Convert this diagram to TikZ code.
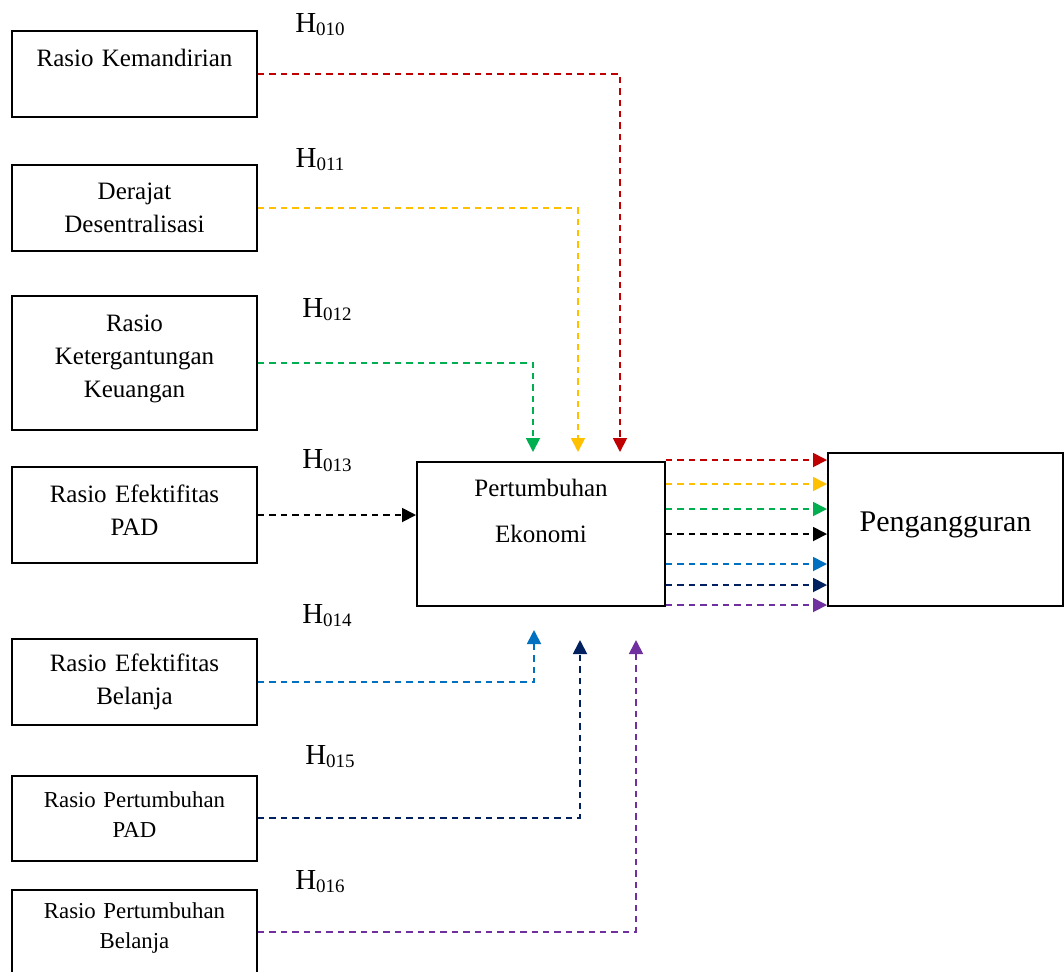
\documentclass[tikz,border=0pt]{standalone}
\usepackage{fontspec}
\setmainfont{Liberation Serif}
\usetikzlibrary{arrows.meta,calc}

\definecolor{hRed}{HTML}{C00000}
\definecolor{hYel}{HTML}{FFC000}
\definecolor{hGrn}{HTML}{00B050}
\definecolor{hBlu}{HTML}{0070C0}
\definecolor{hNav}{HTML}{002060}
\definecolor{hPur}{HTML}{7030A0}

\newcommand{\hyp}[1]{H\raisebox{-1.5pt}{\fontsize{9.5}{10}\selectfont #1}}

\begin{document}
\begin{tikzpicture}[x=0.5pt, y=-0.5pt, every node/.style={text centered},
	varbox/.style={rectangle, draw, line width=1pt, inner sep=0pt,
		minimum width=122.5pt, text width=118pt, minimum height=#1,
		font=\fontsize{12.5}{16.5}\selectfont},
	smallbox/.style={varbox=#1, font=\fontsize{11.4}{15}\selectfont},
	hlabel/.style={inner sep=0pt, font=\fontsize{14.5}{16}\selectfont},
	link/.style={dash pattern=on 3.2pt off 2.5pt, line width=0.9pt,
		-{Triangle[length=7pt, width=7pt]}}]
	\useasboundingbox (0,0) rectangle (1064,971);

	% variabel independen
	\node[varbox=43pt] (kem) at (134.5, 74) {Rasio Kemandirian\\ ~};
	\node[varbox=43pt] (der) at (134.5, 208) {Derajat\\Desentralisasi};
	\node[varbox=67pt] (ket) at (134.5, 363) {Rasio\\Ketergantungan\\Keuangan\\[-9.8pt] ~};
	\node[varbox=48pt] (efp) at (134.5, 515) {Rasio Efektifitas\\PAD\\[-11.5pt] ~};
	\node[varbox=43pt] (efb) at (134.5, 682) {Rasio Efektifitas\\Belanja};
	\node[smallbox=42.5pt] (ptp) at (134.5, 818) {Rasio Pertumbuhan\\PAD\\[-11.5pt] ~};
	\node[smallbox=42.5pt] (ptb) at (134.5, 932) {Rasio Pertumbuhan\\Belanja\\[-9pt] ~};

	% intervening dan dependen
	\node[rectangle, draw, line width=1pt, inner sep=0pt, minimum width=124pt,
		text width=120pt, minimum height=72pt, font=\fontsize{12.5}{23}\selectfont]
		(pe) at (541, 534) {Pertumbuhan\\Ekonomi\\ ~};
	\node[rectangle, draw, line width=1pt, inner sep=0pt, minimum width=117.5pt,
		minimum height=76.5pt, font=\fontsize{15}{18}\selectfont]
		(png) at (945.5, 529.5) {\raisebox{8pt}{Pengangguran}};

	% hipotesis
	\node[hlabel] (h10) at (320, 25) {\hyp{010}};
	\node[hlabel] (h11) at (320, 160) {\hyp{011}};
	\node[hlabel] (h12) at (327, 310) {\hyp{012}};
	\node[hlabel] (h13) at (327, 461) {\hyp{013}};
	\node[hlabel] (h14) at (327, 616) {\hyp{014}};
	\node[hlabel] (h15) at (330, 757) {\hyp{015}};
	\node[hlabel] (h16) at (320, 882) {\hyp{016}};

	% ujung panah
	\coordinate (tRed) at (620, 452);
	\coordinate (tYel) at (578, 452);
	\coordinate (tGrn) at (533, 452);
	\coordinate (tBlu) at (534, 630);
	\coordinate (tNav) at (580, 640);
	\coordinate (tPur) at (636, 640);

	\draw[link, hRed] (kem.east) -| (tRed);
	\draw[link, hYel] (der.east) -| (tYel);
	\draw[link, hGrn] (ket.east) -| (tGrn);
	\draw[link, black] (efp.east) -- (efp.east -| pe.west);
	\draw[link, hBlu] (efb.east) -| (tBlu);
	\draw[link, hNav] (ptp.east) -| (tNav);
	\draw[link, hPur] (ptb.east) -| (tPur);

	\foreach \dd/\cc in {-1/hRed, 23/hYel, 48/hGrn, 73/black, 103/hBlu, 124/hNav, 144/hPur}
		\draw[link, \cc] ($(pe.north east)+(0,\dd)$) coordinate (s) -- (s -| png.west);
\end{tikzpicture}
\end{document}
